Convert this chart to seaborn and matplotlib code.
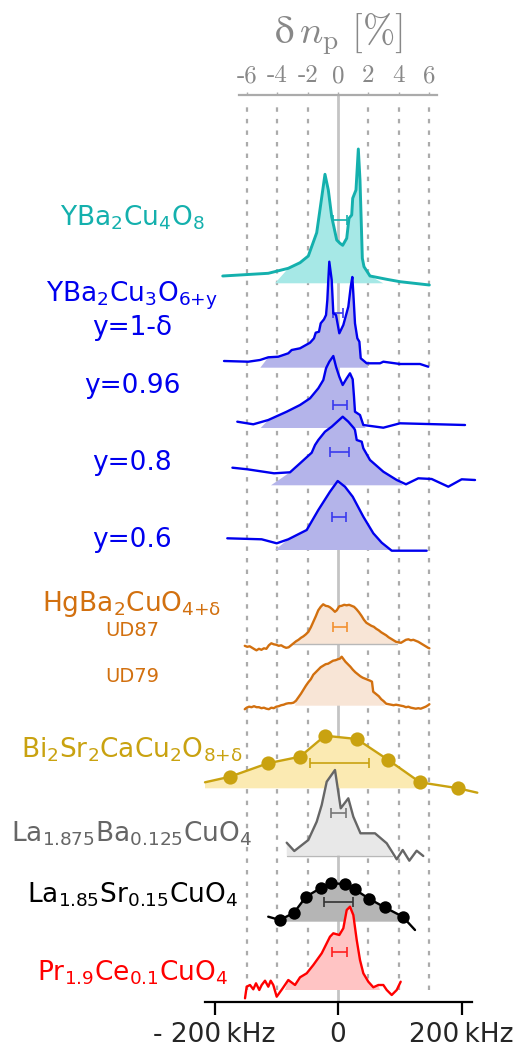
import numpy as np
import seaborn as sns
import matplotlib.pyplot as plt

# NMR spectra: frequency offset (kHz) and intensity (a.u., common scale)
y124_f = [-186.7, -112.9, -80.5, -61.5, -48.1, -34.5, -21.1, -15.7, -10.2, -2.1, 3.2, 7.6, 14.1,
          17.8, 22.2, 23.8, 29.1, 32.9, 35.6, 39.4, 42.1, 51.8, 78.9, 100.4, 147.9]
y124_i = [7.3, 10, 15, 20.6, 27.3, 50.6, 109, 93.3, 66.6, 43.3, 40, 38, 45,
          65, 68.3, 85, 93.3, 134.3, 103.3, 25, 16.6, 7.3, 4, 1.6, -1.7]

y123a_f = [-184.6, -145.3, -126.3, -112.9, -96.7, -80.5, -75, -61.5, -45.3, -38.9, -36.1, -30.8,
           -28, -22.7, -19.4, -17.3, -15.7, -14.1, -10.2, -7.6, -3.2, 2.1, 8.6, 16.7, 20.6, 23.2,
           24.8, 27.5, 31.3, 34.6, 36.8, 46.5, 68, 73.4, 100.4, 132.8, 146.2]
y123a_i = [6.7, 6, 7.7, 10.4, 11, 14.4, 17.7, 19.4, 25, 29.4, 35, 36,
           44.4, 48.4, 52.7, 67.7, 87.7, 106, 87.7, 54.4, 52.7, 34.4, 42.7, 61, 81, 90.7,
           74.4, 44.4, 29.4, 26, 9.4, 4.4, 4.4, 6, 3.7, 3.7, 1]

y096_f = [-163.1, -137.2, -112.9, -83.1, -61.5, -45.3, -31.9, -23.8, -19.4, -14.1, -7.6, -3.2,
          2.1, 7.6, 14.1, 19.4, 23.8, 25.9, 27.5, 35.6, 41, 73.4, 100.4, 205.7]
y096_i = [6.3, 3.7, 8, 16.3, 23, 29.7, 39.7, 48, 59.7, 66.3, 72, 61.3,
          51.3, 43, 49.7, 54.7, 48.7, 31.3, 16.3, 13, 3, 0.3, 4.7, 3]

y08_f = [-171, -146.7, -103.6, -77.7, -61.5, -42.6, -37.2, -31.9, -21.1, -10.2, 7.6, 16.7, 25.9,
         27.5, 30.3, 38.4, 41, 51.8, 73.4, 95.1, 110.1, 130, 151.7, 178.6, 200.3, 221.9]
y08_i = [17.6, 16, 12, 13, 22, 32.6, 40.3, 45.3, 53.6, 58.6, 68.6, 63.6, 57,
         55.3, 45.3, 43.6, 37, 25.3, 13.6, 5.3, 1, 7, 6.3, -1.4, 6, 5.3]

y06_f = [-179.3, -123.6, -99.3, -80.5, -50.7, -31.9, -13, -0.5, 11.3, 23.8, 41, 57.2, 70.8, 87, 143.6]
y06_i = [11.7, 10.7, 6.7, 10.7, 20, 40, 58.3, 69, 63.3, 53.3, 33.3, 16.7, 7.3, -0.7, -0.7]

hg87_f = [-151, -147, -143, -139, -135, -132, -128, -124, -120, -116, -112, -108, -104, -100,
          -96, -92, -88, -84, -80, -76, -72, -68, -64, -60, -56, -52, -48, -44, -40, -36, -32,
          -28, -24, -20, -16, -13, -9, -5, -2, 2, 6, 10, 14, 18, 22, 26, 30, 34, 38, 42, 46, 50,
          54, 58, 62, 66, 70, 74, 78, 82, 86, 90, 94, 98, 102, 106, 110, 114, 118, 122, 126,
          130, 134, 138, 142, 146, 148]
hg87_i = [-1.5, -2.5, -2, -3.5, -5, -6, -4.5, -5.5, -4, -4.5, -1, 1, 0, -0.5,
          -1.5, -1, -2.5, -3.5, -3, -1, 1, 3, 4.5, 6.5, 8, 10, 12.5, 17, 22.5, 28, 34,
          37.5, 40, 38.5, 38, 37, 35, 32.5, 34, 38, 38.5, 39.5, 39, 39.5, 38.5, 37.5, 35, 32, 28.5,
          24.5, 21.5, 20, 18.5, 17.5, 15.5, 14, 12, 10.5, 9, 7, 5.5, 4, 2.5, 2, 1.5, 3, 4.5, 5,
          4, 4.5, 3.5, 2.5, 1, -0.5, -2, -3.5, -4]

hg79_f = [-151, -148, -144, -140, -136, -132, -128, -124, -120, -116, -112, -108, -104, -100,
          -96, -92, -88, -84, -80, -76, -72, -68, -64, -60, -56, -52, -48, -44, -40, -36, -32,
          -28, -24, -20, -16, -12, -8, -4, 0, 3, 6, 9, 12, 16, 20, 24, 28, 32, 36, 40, 44, 48,
          52, 55, 57, 62, 66, 70, 74, 78, 82, 86, 90, 94, 98, 102, 106, 110, 114, 118, 122, 126,
          130, 134, 138, 142, 146, 148]
hg79_i = [-3.5, -2, -1, -1.5, -0.5, -1.5, -1.5, -2.5, -2, -3, -3.5, -2, -2.5, -1,
          -0.5, 0.5, 1, 2, 2.5, 2.5, 3, 5, 8.5, 12, 16, 20, 23.5, 26.5, 31, 33.5, 36,
          38.5, 40, 41.5, 42, 43.5, 45, 45.5, 46.5, 47, 49, 46.5, 44, 41.5, 39, 36, 33.5, 31.5,
          29.5, 28, 27, 26, 25, 24, 14, 11.5, 9.5, 6.5, 4.5, 2, 1.5, 1, 0.5, 1, 0.5, 0, -0.5,
          -1.5, -1, -2, -2.5, -3, -2.5, -3, -2, -1, 0.5, 1.5]

bi_f = [-215.4, -174.9, -113.8, -61.5, -21.1, 30.3, 81.5, 132.8, 194.8, 225.6]
bi_i = [6, 11.6, 25, 31.6, 52.6, 49.3, 28.3, 6, 0, -4.4]

lbco_f = [-83.1, -70.8, -48.1, -34.5, -26.4, -18.3, -4.9, 4.4, 16.7, 24.8, 36.4, 59.9, 78.9,
          95.1, 104.8, 115.5, 127.4, 138.1]
lbco_i = [13, 4.7, 15.7, 34, 50.7, 74, 85.7, 47.4, 57.4, 39, 22.4, 22.4, 12.4,
          -3.6, 5.7, -5, 5, -0.3]

lsco_f = [-113, -94.1, -71.3, -51.8, -28, -10.9, 10.9, 27, 50.2, 75.6, 104.8, 124.7]
lsco_i = [5, 1.7, 9, 25, 33.7, 38.4, 37.7, 32.4, 23, 14.4, 5, -8.3]

pcco_f = [-150.6, -147.9, -142.5, -137.2, -132.8, -127.5, -123.6, -118.2, -112.9, -109, -104.8,
          -99.3, -89.6, -80.5, -69.6, -61.5, -50.7, -40, -26.4, -13, -7.6, 2.1, 8.6, 14.1, 19.4,
          24.8, 30.3, 35.6, 41, 49.1, 57.2, 65.3, 73.4, 78.9, 87, 95.1, 101.5]
pcco_i = [-8.3, 3.3, 5, 0.7, 6.7, 0, 5, 9.3, 3.3, 9.3, 5,
          -6.7, 1.7, 10, 5, 12.7, 16.7, 25, 36.7, 53.3, 56.7, 55, 61.7, 80, 83.3,
          75, 50, 30, 16.7, 8.3, 2.7, 5, 5, 0, -5, 0, 8.3]

# error bars: centre (kHz), half width (kHz), level above baseline (a.u.)
err_c = [2.8, 0, 3.2, 2.8, 1.6, 3.2, None, 2.4, 0.5, 1.1, 1.9]
err_w = [11.3, 8.1, 10.8, 15.7, 10.8, 10.8, None, 47.8, 12.5, 23.8, 12.1]
err_h = [63.3, 54.4, 23, 33.6, 33.3, 17, None, 25, 43, 19.4, 38.3]

# shaded region: (baseline start, first curve pt, last curve pt, baseline end) in kHz
fill_edges = [(-102, -100, 52, 73.4), (-125.8, -125, 47, 49), (-125.2, -120, 42, 45),
              (-108.5, -100, 96, 105.8), (-102, -90, 88, 87), (-72.4, -72, 94, 95),
              (-69.6, -69, 75, 76), (-215.4, -216, 133, 138), (-83, -84, 80, 87),
              (-94.1, -95, 105, 106), (-86, -85, 66, 68)]

pct_ticks = [-6, -4, -2, 0, 2, 4, 6]
khz_per_pct = 24.56

# layout: baseline of each trace in axis units, colours
spectra = [
    (y124_f, y124_i, 718.7, '#14b0ad', '#a6e8e6', '#14b0ad'),
    (y123a_f, y123a_i, 634.3, '#0000ee', '#b4b4ea', '#3a3aee'),
    (y096_f, y096_i, 574, '#0000ee', '#b4b4ea', '#3a3aee'),
    (y08_f, y08_i, 516.7, '#0000ee', '#b4b4ea', '#3a3aee'),
    (y06_f, y06_i, 452, '#0000ee', '#b4b4ea', '#3a3aee'),
    (hg87_f, hg87_i, 357.7, '#d2700f', '#f8e5d6', '#f29030'),
    (hg79_f, hg79_i, 296.3, '#d2700f', '#f8e5d6', '#f29030'),
    (bi_f, bi_i, 213.7, '#c9a210', '#fbeab2', '#c9a210'),
    (lbco_f, lbco_i, 146.3, '#666666', '#e8e8e8', '#777777'),
    (lsco_f, lsco_i, 80.3, '#000000', '#b5b5b5', '#333333'),
    (pcco_f, pcco_i, 12, '#ff0000', '#ffc4c4', '#ff2020'),
]

labels = [
    (r'$\mathregular{YBa_2Cu_4O_8}$', 218, '#14b0ad', 19),
    (r'$\mathregular{YBa_2Cu_3O_{6{+}y}}$', 296, '#0000ee', 19),
    ('y=1-δ', 328, '#0000ee', 19),
    ('y=0.96', 386, '#0000ee', 19),
    ('y=0.8', 463, '#0000ee', 19),
    ('y=0.6', 540, '#0000ee', 19),
    (r'$\mathregular{HgBa_2CuO_{4{+}δ}}$', 604, '#d2700f', 19),
    ('UD87', 630, '#d2700f', 14),
    ('UD79', 677, '#d2700f', 14),
    (r'$\mathregular{Bi_2Sr_2CaCu_2O_{8{+}δ}}$', 750, '#c9a210', 19),
    (r'$\mathregular{La_{1.875}Ba_{0.125}CuO_4}$', 834, '#666666', 19),
    (r'$\mathregular{La_{1.85}Sr_{0.15}CuO_4}$', 895, '#000000', 19),
    (r'$\mathregular{Pr_{1.9}Ce_{0.1}CuO_4}$', 973, '#ff0000', 19),
]

sns.set_style('white')
plt.rcParams['font.family'] = ['DejaVu Sans']

W, H = 516, 1055
fig = plt.figure(figsize=(W / 100, H / 100), dpi=100)
ax = fig.add_axes([205 / W, 53 / H, 267 / W, 907 / H])
ax.set_xlim(-215.4, 217)
ax.set_ylim(0, 907)

# guide lines
grid_x = [p * khz_per_pct for p in pct_ticks if p != 0]
ax.vlines(grid_x, 12, 899, colors='#ababab', lw=1.6, linestyles=(0, (2, 3.2)), zorder=0.5)
ax.vlines(0, 0, 907, colors='#c4c4c4', lw=2, zorder=0.6)

for k, (f, inten, base, col, fcol, ecol) in enumerate(spectra):
    f = np.asarray(f)
    y = base + np.asarray(inten)
    lo_b, lo_c, hi_c, hi_b = fill_edges[k]
    m = (f >= lo_c) & (f <= hi_c)
    px = np.concatenate([[lo_b], f[m], [hi_b]])
    py = np.concatenate([[base], y[m], [base]])
    ax.fill(px, py, color=fcol, lw=0, zorder=1)
    if k in (5, 8):
        ax.plot([lo_b, hi_b], [base, base], color='#b8b8b8', lw=1, zorder=1.1)
    sns.lineplot(x=f, y=y, ax=ax, color=col, lw=2.1 if k == 0 else 1.7,
                 estimator=None, sort=False, clip_on=False, zorder=3)
    if k in (7, 9):
        s = 105 if k == 7 else 80
        sns.scatterplot(x=f[1:-1], y=y[1:-1], ax=ax, color=col, s=s, linewidth=0,
                        zorder=4, clip_on=False)
    if err_c[k] is not None:
        ax.errorbar(err_c[k], base + err_h[k], xerr=err_w[k], fmt='none', ecolor=ecol,
                    elinewidth=1.2, capsize=3.5, capthick=1.2, zorder=2)

for spine in ['left', 'right', 'top']:
    ax.spines[spine].set_visible(False)
ax.spines['bottom'].set_color('black')
ax.spines['bottom'].set_linewidth(1.6)
ax.set_yticks([])
ax.set_xticks([-200, 0, 200])
ax.set_xticklabels(['- 200\u2009kHz', '0', '200\u2009kHz'])
ax.tick_params(axis='x', direction='out', length=9.5, width=1.6, color='black',
               labelsize=19, pad=5, bottom=True)

# top axis in percent
ax2 = ax.twiny()
ax2.set_xlim(-215.4 / khz_per_pct, 217 / khz_per_pct)
for spine in ['left', 'right', 'bottom']:
    ax2.spines[spine].set_visible(False)
ax2.spines['top'].set_color('#ababab')
ax2.spines['top'].set_linewidth(1.6)
ax2.spines['top'].set_bounds(-6.5, 6.5)
ax2.set_xticks(pct_ticks)
ax2.tick_params(axis='x', direction='out', length=2.5, width=1, color='#ababab', pad=3, top=True)
ax2.set_xticklabels([str(p) for p in pct_ticks], fontfamily='cmr10', fontsize=18,
                    color='#888888')
ax2.set_xlabel('$\\mathrm{δ}\\,n_\\mathrm{p}\\ [\\%]$', fontsize=28, color='#888888',
               math_fontfamily='cm', labelpad=16)

for text, ypx, col, size in labels:
    fig.text(132 / W, 1 - ypx / H, text, color=col, fontsize=size, ha='center', va='center')

fig.savefig('out.png', dpi=100)
